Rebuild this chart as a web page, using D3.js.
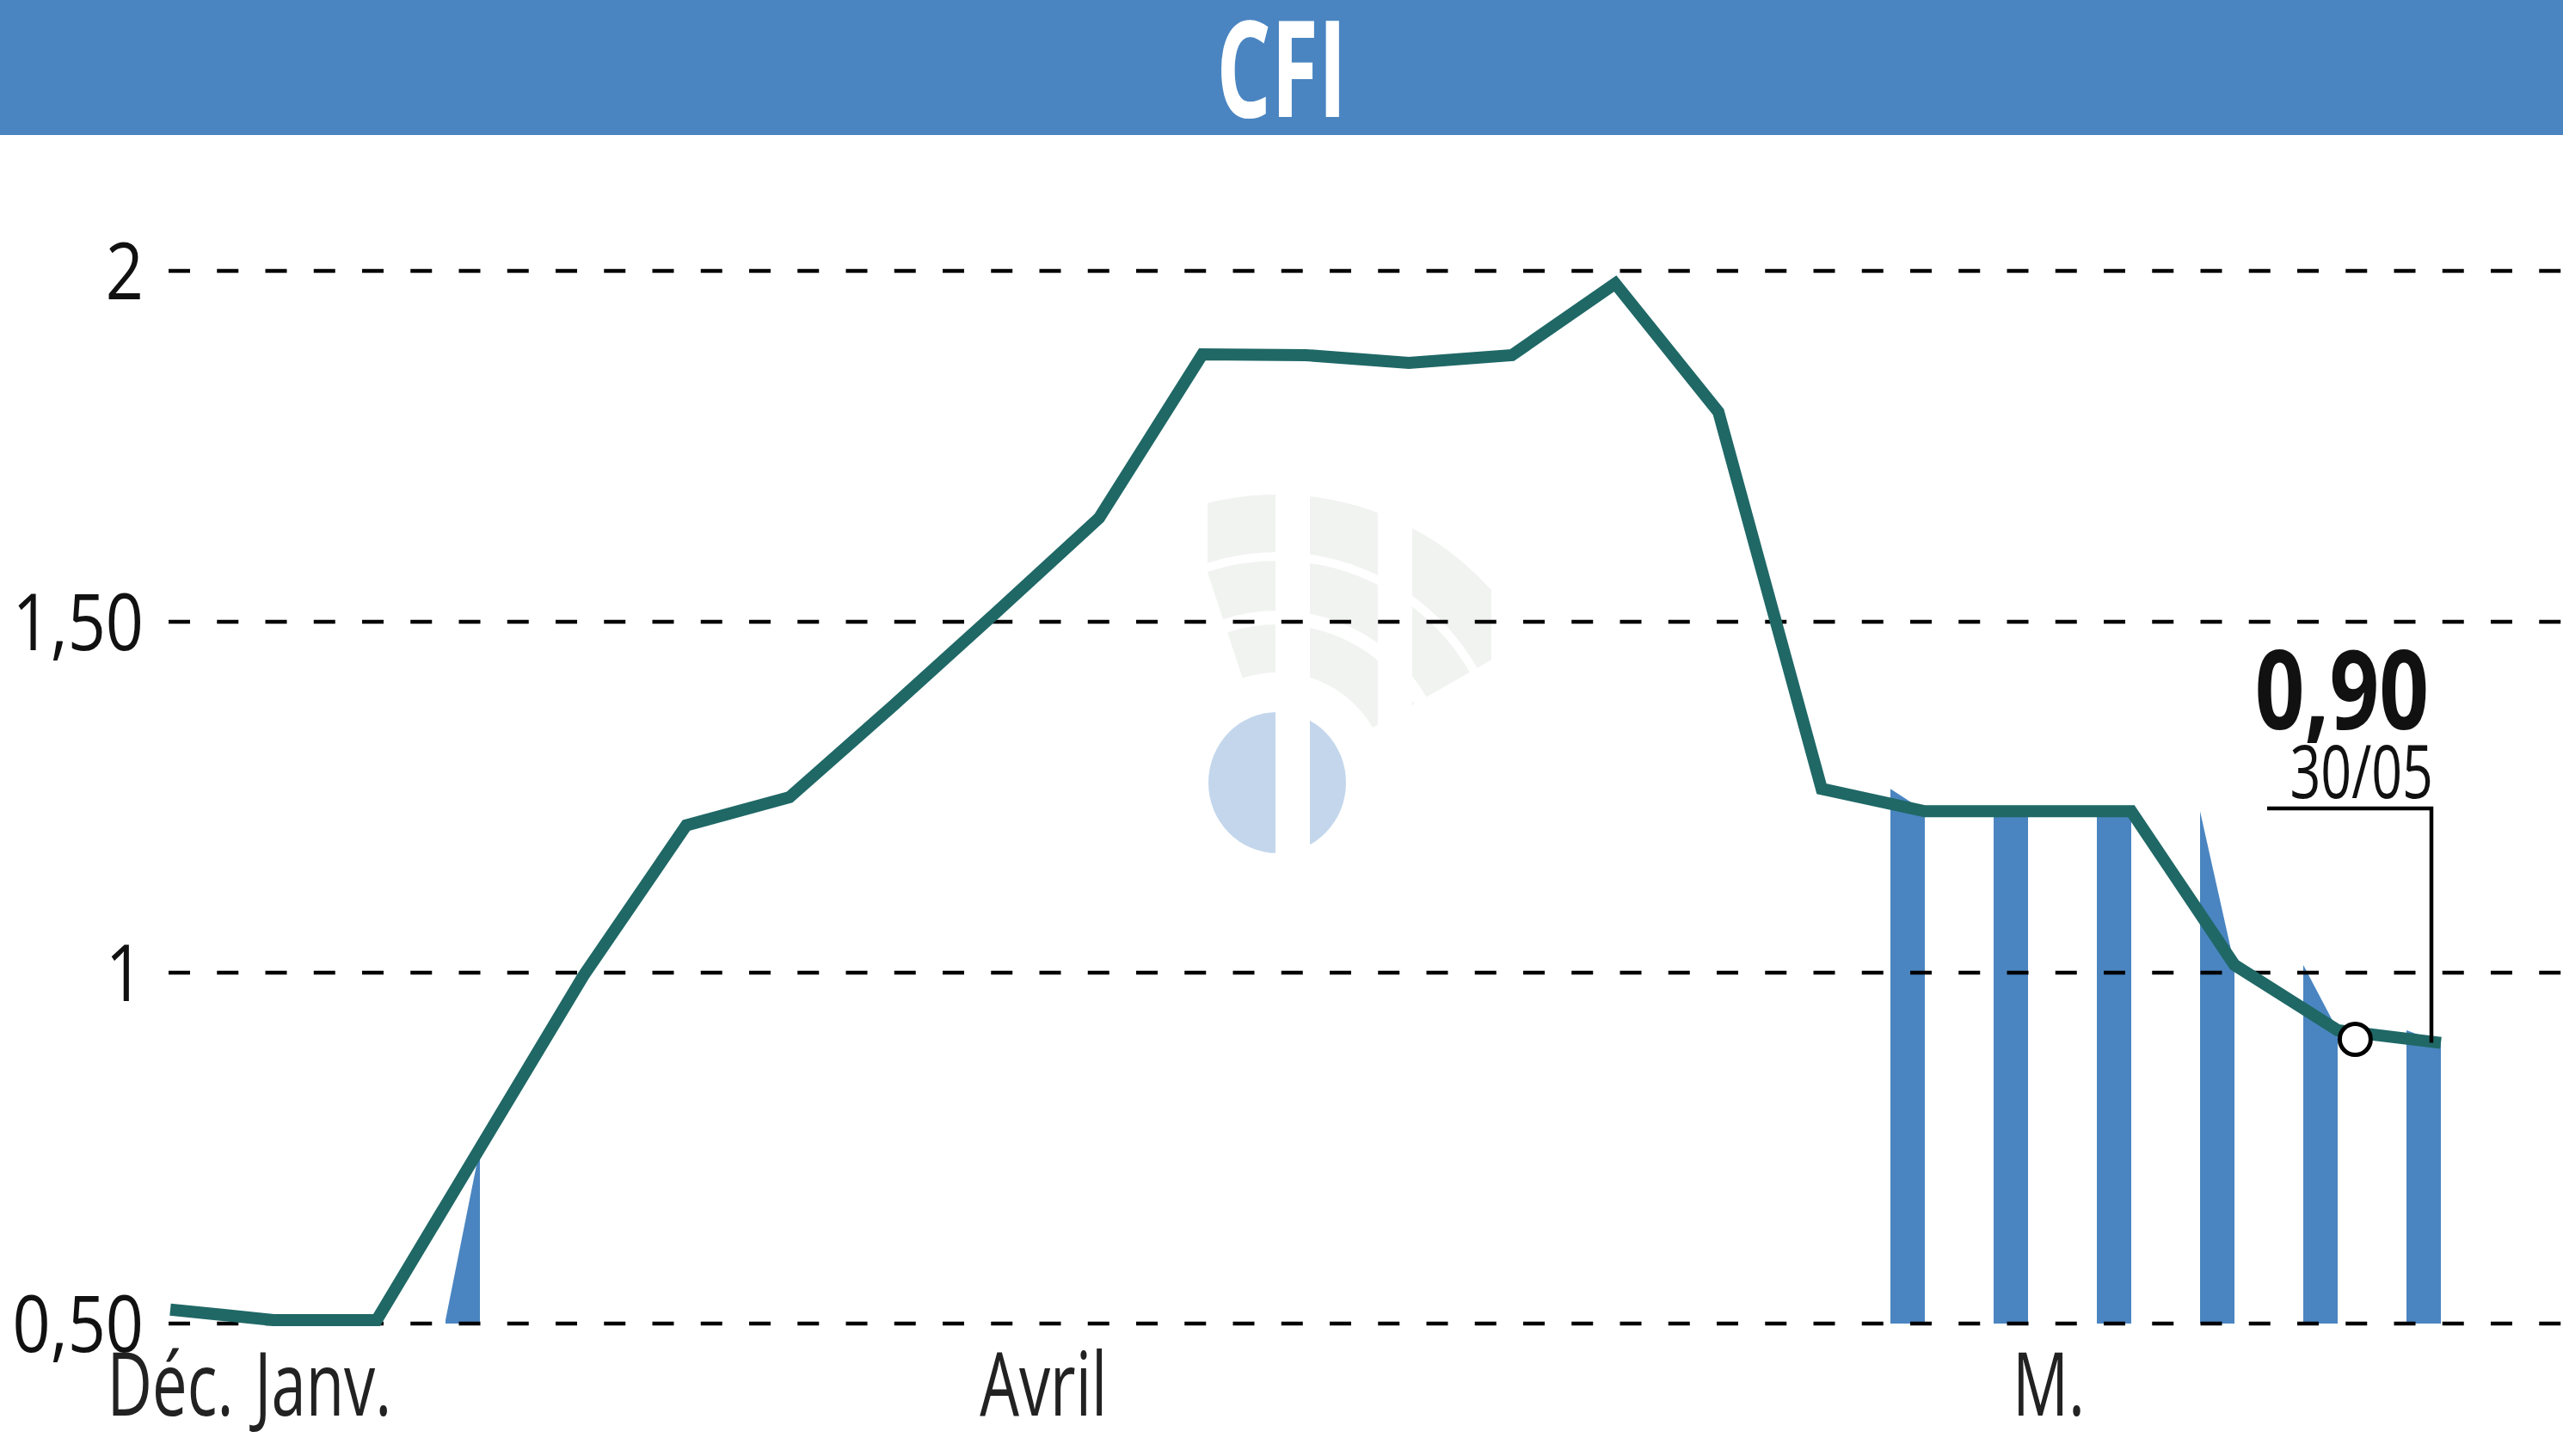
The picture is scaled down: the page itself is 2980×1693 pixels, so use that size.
<!DOCTYPE html>
<html>
<head>
<meta charset="utf-8">
<script src="https://cdn.jsdelivr.net/npm/d3@7"></script>
<style>
  html, body { margin: 0; padding: 0; background: #ffffff; }
  svg { display: block; }
</style>
</head>
<body>
<div id="chart"></div>
<script>
// ---------- data ----------
const title = "CFI";
const prices = [0.52, 0.505, 0.505, 0.75, 0.995, 1.21, 1.25, 1.38, 1.513, 1.648,
                1.881, 1.880, 1.869, 1.880, 1.982, 1.799, 1.262, 1.230, 1.230, 1.230,
                1.011, 0.918, 0.90];
const hasVolume = [0, 0, 0, 1, 0, 0, 0, 0, 0, 0, 0, 0, 0, 0, 0, 0, 0, 1, 1, 1, 1, 1, 1];
const yTickValues = [0.5, 1, 1.5, 2];
const yTickLabels = ["0,50", "1", "1,50", "2"];
const xLabels = ["Déc.", "Janv.", "Avril", "M."];
const xLabelIndex = [0, 1.48, 8.46, 18.2];
const markerPoint = { index: 21.17, value: 0.905 };
const lastValueLabel = "0,90";
const lastDateLabel = "30/05";

// ---------- layout ----------
const W = 2980, H = 1693;
const BLUE = "#4a85c1";
const LINE = "#1f6866";
const FONT = "'Open Sans', 'Liberation Sans', sans-serif";

const svg = d3.select("#chart").append("svg")
  .attr("width", W).attr("height", H);

const x = d3.scaleLinear().domain([0, prices.length - 1]).range([198, 2838]);
const y = d3.scaleLinear().domain([0.5, 2]).range([1539, 315]);

// title band
svg.append("rect").attr("x", 0).attr("y", 0).attr("width", W).attr("height", 157).attr("fill", BLUE);
svg.append("text")
  .attr("transform", `translate(${W / 2},136) scale(0.64,1)`)
  .attr("text-anchor", "middle")
  .attr("font-family", FONT).attr("font-weight", 700).attr("font-size", 156)
  .attr("fill", "#ffffff").text(title);

// watermark (faint logo)
const wm = svg.append("g");
wm.append("clipPath").attr("id", "wmclip")
  .append("rect").attr("x", 1404).attr("y", 540).attr("width", 330).attr("height", 480);
const ringG = wm.append("g").attr("clip-path", "url(#wmclip)")
  .append("g").attr("transform", "translate(1485,910)");
const rings = [[128, 184], [200, 258], [268, 335]];
ringG.selectAll("path").data(rings).join("path")
  .attr("d", r => d3.arc()({ innerRadius: r[0], outerRadius: r[1], startAngle: -0.32, endAngle: 1.05 }))
  .attr("fill", "#f1f3f1");
wm.append("ellipse").attr("cx", 1485).attr("cy", 910).attr("rx", 80).attr("ry", 82).attr("fill", "#c3d6ec");
wm.append("rect").attr("x", 1483).attr("y", 540).attr("width", 40).attr("height", 480).attr("fill", "#ffffff");
wm.append("rect").attr("x", 1602).attr("y", 540).attr("width", 40).attr("height", 480).attr("fill", "#ffffff");

// volume bars (top follows the price line)
const barW = 40;
const barIdx = d3.range(prices.length).filter(i => hasVolume[i] > 0);
svg.append("g").selectAll("path").data(barIdx).join("path")
  .attr("d", i => {
    const x1 = x(i), x0 = x1 - barW;
    const pPrev = i > 0 ? prices[i - 1] : prices[i];
    return `M${x0},${y(0.5)}L${x0},${y(pPrev)}L${x1},${y(prices[i])}L${x1},${y(0.5)}Z`;
  })
  .attr("fill", BLUE);

// gridlines
svg.append("g").selectAll("line").data(yTickValues).join("line")
  .attr("x1", 196).attr("x2", W)
  .attr("y1", d => y(d)).attr("y2", d => y(d))
  .attr("stroke", "#000").attr("stroke-width", 4.5)
  .attr("stroke-dasharray", "25 31.25");

// y labels
svg.append("g").selectAll("text").data(yTickValues).join("text")
  .attr("transform", d => `translate(167,${y(d) + 33}) scale(0.84,1)`)
  .attr("text-anchor", "end")
  .attr("font-family", FONT).attr("font-size", 92).attr("fill", "#111")
  .text((d, i) => yTickLabels[i]);

// x labels
svg.append("g").selectAll("text").data(xLabels).join("text")
  .attr("transform", (d, i) => `translate(${x(xLabelIndex[i])},1646) scale(0.71,1)`)
  .attr("text-anchor", "middle")
  .attr("font-family", FONT).attr("font-size", 102).attr("fill", "#222")
  .text(d => d);

// price line
const line = d3.line().x((d, i) => x(i)).y(d => y(d));
svg.append("path").datum(prices)
  .attr("d", line)
  .attr("fill", "none").attr("stroke", LINE).attr("stroke-width", 14)
  .attr("stroke-linejoin", "miter");

// marker
svg.append("circle")
  .attr("cx", x(markerPoint.index)).attr("cy", y(markerPoint.value)).attr("r", 18)
  .attr("fill", "#fff").attr("stroke", "#000").attr("stroke-width", 5);

// last value annotation
const lastI = prices.length - 1;
const lx = x(lastI), ly = y(prices[lastI]);
svg.append("path")
  .attr("d", `M${lx - 202},940L${lx - 11},940L${lx - 11},${ly}`)
  .attr("fill", "none").attr("stroke", "#000").attr("stroke-width", 4.5);
svg.append("text")
  .attr("transform", `translate(${lx - 14},848) scale(0.79,1)`)
  .attr("text-anchor", "end")
  .attr("font-family", FONT).attr("font-weight", 700).attr("font-size", 128).attr("fill", "#111")
  .text(lastValueLabel);
svg.append("text")
  .attr("transform", `translate(${lx - 9},928) scale(0.73,1)`)
  .attr("text-anchor", "end")
  .attr("font-family", FONT).attr("font-size", 86).attr("fill", "#111")
  .text(lastDateLabel);
</script>
</body>
</html>
